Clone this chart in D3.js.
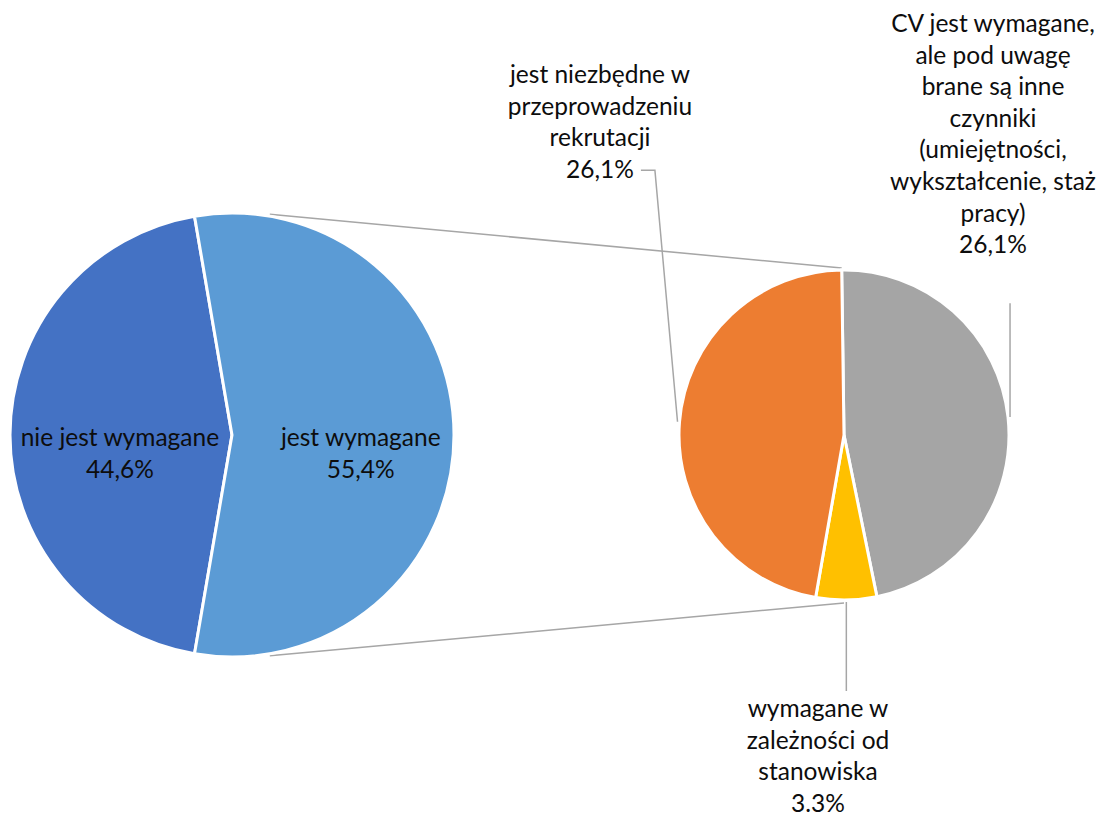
<!DOCTYPE html>
<html>
<head>
<meta charset="utf-8">
<script src="https://cdn.jsdelivr.net/npm/d3@7"></script>
<style>
  body { margin: 0; background: #fff; }
  svg text { font-family: "Lato", "Open Sans", sans-serif; fill: #0d0d0d; }
</style>
</head>
<body>
<script>
"use strict";

// main pie data
var mainCategories = ["nie jest wymagane", "jest wymagane"];
var mainValues = [44.6, 55.4];
var mainLabels = ["44,6%", "55,4%"];
var mainColors = ["#4472C4", "#5B9BD5"];

// secondary pie (split of "jest wymagane")
var subCategories = [
    ["CV jest wymagane,", "ale pod uwagę", "brane są inne", "czynniki", "(umiejętności,", "wykształcenie, staż", "pracy)"],
    ["wymagane w", "zależności od", "stanowiska"],
    ["jest niezbędne w", "przeprowadzeniu", "rekrutacji"]
];
var subValues = [26.1, 3.3, 26.1];
var subLabels = ["26,1%", "3.3%", "26,1%"];
var subColors = ["#A5A5A5", "#FFC000", "#ED7D31"];

var WIDTH = 1099, HEIGHT = 820;
var FONT_SIZE = 24.5, LINE_H = 31.6;
var toRad = Math.PI / 180;

var MAIN = { cx: 232, cy: 435, r: 222 };
var SUB = { cx: 844, cy: 435, r: 165, rot: -0.8 };

var svg = d3.select("body").append("svg")
    .attr("width", WIDTH)
    .attr("height", HEIGHT);

// point on circle, angle in radians clockwise from top
var polar = function(c, r, a)
{
    return [c.cx + r * Math.sin(a), c.cy - r * Math.cos(a)];
};

// ---- main pie: split slice centred on the right
var mainTotal = d3.sum(mainValues);
var a1 = 2 * Math.PI * mainValues[0] / mainTotal;
var a2 = 2 * Math.PI * mainValues[1] / mainTotal;
var mainStart = Math.PI / 2 - a1 - a2 / 2 + 2 * Math.PI;

var mainPie = d3.pie().sort(null)
    .startAngle(mainStart)
    .endAngle(mainStart + 2 * Math.PI);
var mainArcs = mainPie(mainValues);
var mainArc = d3.arc().innerRadius(0).outerRadius(MAIN.r);

// ---- secondary pie: small slice centred at the bottom
var subTotal = d3.sum(subValues);
var subStart = Math.PI - 2 * Math.PI * (subValues[0] + subValues[1] / 2) / subTotal + SUB.rot * toRad;
var subPie = d3.pie().sort(null)
    .startAngle(subStart)
    .endAngle(subStart + 2 * Math.PI);
var subArcs = subPie(subValues);
var subArc = d3.arc().innerRadius(0).outerRadius(SUB.r);

// connector lines between the pies
var splitStart = mainArcs[1].startAngle;
var splitEnd = mainArcs[1].endAngle;
var connectors = [
    [polar(MAIN, MAIN.r + 2, 2 * Math.PI - splitStart), polar(SUB, SUB.r + 2, SUB.rot * toRad)],
    [polar(MAIN, MAIN.r + 2, 2 * Math.PI - splitEnd + 2 * Math.PI), polar(SUB, SUB.r + 3, Math.PI)]
];
svg.append("g").attr("class", "connectors")
    .selectAll("path")
    .data(connectors)
    .enter()
    .append("path")
    .attr("d", function(d) { return d3.line()(d); })
    .attr("fill", "none")
    .attr("stroke", "#A6A6A6")
    .attr("stroke-width", 1.5);

svg.append("g")
    .attr("transform", "translate(" + MAIN.cx + "," + MAIN.cy + ")")
    .selectAll("path")
    .data(mainArcs)
    .enter()
    .append("path")
    .attr("d", mainArc)
    .attr("fill", function(d, i) { return mainColors[i]; })
    .attr("stroke", "#fff")
    .attr("stroke-width", 3)
    .attr("stroke-linejoin", "miter");

svg.append("g")
    .attr("transform", "translate(" + SUB.cx + "," + SUB.cy + ")")
    .selectAll("path")
    .data(subArcs)
    .enter()
    .append("path")
    .attr("d", subArc)
    .attr("fill", function(d, i) { return subColors[i]; })
    .attr("stroke", "#fff")
    .attr("stroke-width", 3)
    .attr("stroke-linejoin", "miter");

// multi line centred text block, y = first baseline
var addLabel = function(lines, x, y)
{
    var t = svg.append("text")
        .attr("text-anchor", "middle")
        .attr("font-size", FONT_SIZE);
    for (var i = 0; i < lines.length; i++)
    {
        t.append("tspan")
            .attr("x", x)
            .attr("y", y + i * LINE_H)
            .text(lines[i]);
    }
    return t;
};

// main labels inside the slices
var mainLabelRadius = [0.505, 0.58];
for (var i = 0; i < mainArcs.length; i++)
{
    var mid = (mainArcs[i].startAngle + mainArcs[i].endAngle) / 2;
    var p = polar(MAIN, MAIN.r * mainLabelRadius[i], mid);
    addLabel([mainCategories[i], mainLabels[i]], p[0], p[1] + 11);
}

// secondary labels outside, offsets from the secondary centre
var subLabelPos = [[149, -403], [-26, 282], [-244, -352]];
var leaders = [];
for (var i = 0; i < subArcs.length; i++)
{
    var lx = SUB.cx + subLabelPos[i][0];
    var ly = SUB.cy + subLabelPos[i][1];
    var lbl = addLabel(subCategories[i].concat([subLabels[i]]), lx, ly);
    var box = lbl.node().getBBox();
    var lastBox = lbl.selectAll("tspan").nodes().pop().getBBox();

    var mid = (subArcs[i].startAngle + subArcs[i].endAngle) / 2;
    var edge = polar(SUB, SUB.r + 2, mid);

    if (i == 0)
        leaders.push([edge, [edge[0], box.y + box.height + 45]]);
    else if (i == 1)
        leaders.push([edge, [edge[0], box.y - 2]]);
    else
    {
        var ey = lastBox.y + lastBox.height / 2 + 2;
        leaders.push([edge, [lastBox.x + lastBox.width + 21, ey], [lastBox.x + lastBox.width + 7, ey]]);
    }
}

svg.append("g").attr("class", "leaders")
    .selectAll("path")
    .data(leaders)
    .enter()
    .append("path")
    .attr("d", function(d) { return d3.line()(d); })
    .attr("fill", "none")
    .attr("stroke", "#A6A6A6")
    .attr("stroke-width", 1.5);
</script>
</body>
</html>
